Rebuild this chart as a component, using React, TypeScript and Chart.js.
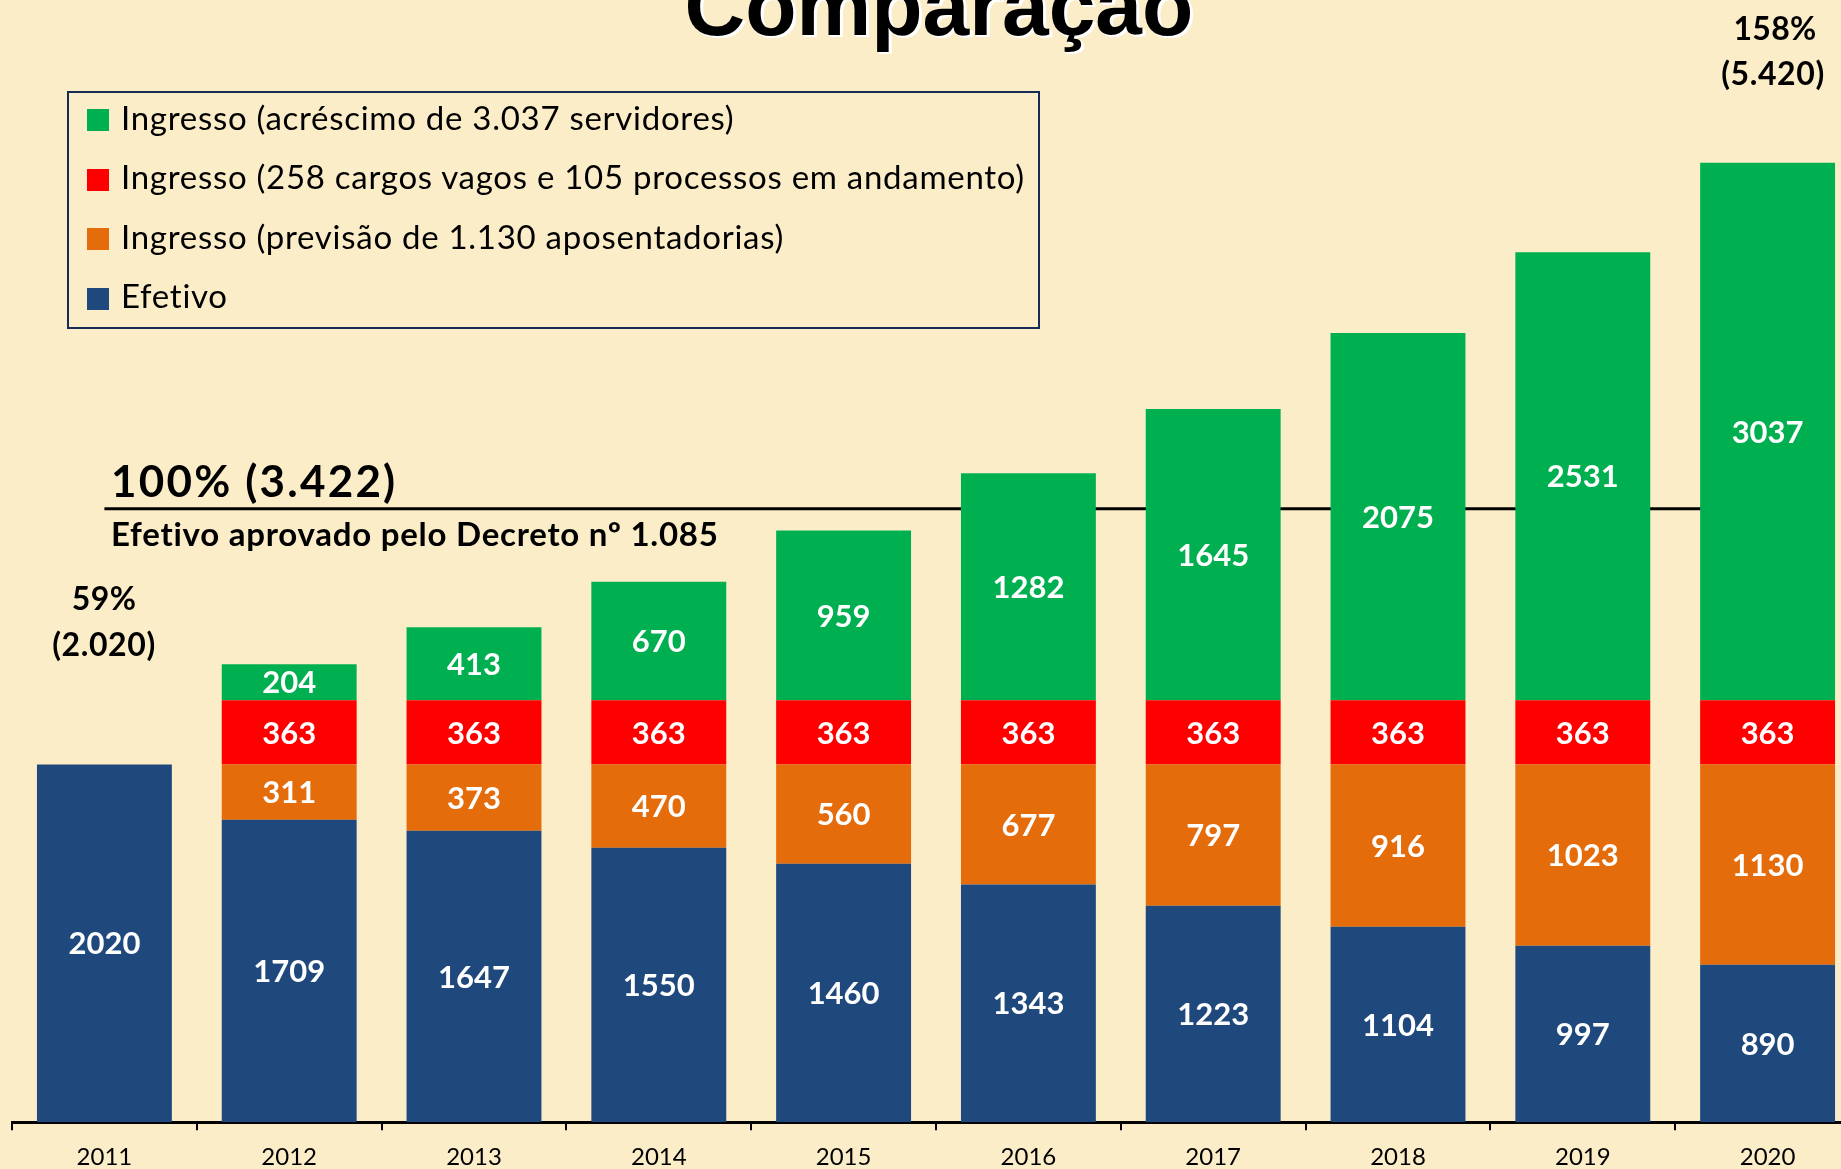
import React, { useEffect, useRef } from 'react';
import { Chart, registerables } from 'chart.js';

Chart.register(...registerables);

// ---- data ----
const categories = ['2011', '2012', '2013', '2014', '2015', '2016', '2017', '2018', '2019', '2020'];
const efetivo = [2020, 1709, 1647, 1550, 1460, 1343, 1223, 1104, 997, 890];
const previsaoAposentadorias = [null, 311, 373, 470, 560, 677, 797, 916, 1023, 1130];
const cargosVagosProcessos = [null, 363, 363, 363, 363, 363, 363, 363, 363, 363];
const acrescimoServidores = [null, 204, 413, 670, 959, 1282, 1645, 2075, 2531, 3037];
// level at which the "100% (3.422)" line is drawn in the picture
const referenceLevel = 3465;

const seriesNames = [
  'Ingresso (acréscimo de 3.037 servidores)',
  'Ingresso (258 cargos vagos e 105 processos em andamento)',
  'Ingresso (previsão de 1.130 aposentadorias)',
  'Efetivo',
];

const COLORS = {
  green: '#00B050',
  red: '#FF0000',
  orange: '#E46C0A',
  blue: '#1F497D',
  bg: '#FCEDC9',
};

const LATO = 'Lato, "Open Sans", sans-serif';

const referenceLinePlugin = {
  id: 'referenceLine',
  beforeDatasetsDraw(chart: any) {
    const { ctx, scales } = chart;
    const y = scales.y.getPixelForValue(referenceLevel);
    const x0 = scales.x.getPixelForValue(0);
    const x1 = scales.x.getPixelForValue(categories.length - 1);
    ctx.save();
    ctx.strokeStyle = '#000';
    ctx.lineWidth = 3;
    ctx.beginPath();
    ctx.moveTo(x0, y);
    ctx.lineTo(x1, y);
    ctx.stroke();
    ctx.restore();
  },
};

const valueLabelPlugin = {
  id: 'valueLabels',
  afterDatasetsDraw(chart: any) {
    const { ctx } = chart;
    const fs = 31;
    ctx.save();
    ctx.fillStyle = '#fff';
    ctx.font = `bold ${fs}px ${LATO}`;
    ctx.textAlign = 'center';
    ctx.textBaseline = 'alphabetic';
    chart.data.datasets.forEach((ds: any, di: number) => {
      const meta = chart.getDatasetMeta(di);
      meta.data.forEach((el: any, i: number) => {
        const v = ds.data[i];
        if (v === null || v === undefined) return;
        const cy = (el.y + el.base) / 2;
        ctx.fillText(String(v), el.x, cy + fs * 0.358);
      });
    });
    ctx.restore();
  },
};

function ChartCanvas() {
  const ref = useRef<HTMLCanvasElement | null>(null);
  useEffect(() => {
    if (!ref.current) return;
    const chart = new Chart(ref.current, {
      type: 'bar',
      data: {
        labels: categories,
        datasets: [
          { label: seriesNames[3], data: efetivo, backgroundColor: COLORS.blue },
          { label: seriesNames[2], data: previsaoAposentadorias, backgroundColor: COLORS.orange },
          { label: seriesNames[1], data: cargosVagosProcessos, backgroundColor: COLORS.red },
          { label: seriesNames[0], data: acrescimoServidores, backgroundColor: COLORS.green },
        ] as any,
      },
      options: {
        animation: false,
        responsive: false,
        devicePixelRatio: 1,
        layout: { padding: { left: 12, right: 12, top: 60, bottom: 0 } },
        datasets: { bar: { categoryPercentage: 1, barPercentage: 0.73, borderWidth: 0 } },
        plugins: { legend: { display: false }, tooltip: { enabled: false }, title: { display: false } },
        scales: {
          x: {
            stacked: true,
            offset: true,
            grid: {
              display: true,
              drawOnChartArea: false,
              drawTicks: true,
              tickLength: 8,
              color: '#000',
              lineWidth: 2,
              offset: true,
            },
            border: { display: true, color: '#000', width: 3 },
            ticks: {
              color: '#000',
              font: { family: LATO, size: 24 },
              padding: 13,
              maxRotation: 0,
              autoSkip: false,
            },
          },
          y: { stacked: true, display: false, min: 0, max: 6000 },
        },
      },
      plugins: [referenceLinePlugin, valueLabelPlugin],
    });
    return () => chart.destroy();
  }, []);
  return (
    <canvas
      ref={ref}
      width={1872}
      height={1185}
      style={{ position: 'absolute', left: 0, top: 0, width: 1872, height: 1185 }}
    />
  );
}

// baseline-positioned text helper (Lato: baseline at top + 0.887*fs with line-height 1)
function Txt(props: {
  text: string;
  x: number;
  baseline: number;
  size: number;
  bold?: boolean;
  center?: boolean;
  spacing?: number;
  color?: string;
}) {
  const { text, x, baseline, size, bold, center, spacing, color } = props;
  return (
    <div
      style={{
        position: 'absolute',
        left: x,
        top: baseline - 0.887 * size,
        fontFamily: LATO,
        fontSize: size,
        lineHeight: 1,
        fontWeight: bold ? 700 : 400,
        letterSpacing: spacing ? `${spacing}px` : undefined,
        color: color || '#000',
        whiteSpace: 'nowrap',
        transform: center ? 'translateX(-50%)' : undefined,
      }}
    >
      {text}
    </div>
  );
}

export default function App() {
  const legendColors = [COLORS.green, COLORS.red, COLORS.orange, COLORS.blue];
  const legendBaselines = [130, 189.5, 249, 308.5];
  return (
    <div
      style={{
        position: 'fixed',
        left: 0,
        top: 0,
        width: 1841,
        height: 1169,
        overflow: 'hidden',
        background: COLORS.bg,
      }}
    >
      <ChartCanvas />

      {/* title */}
      <div
        style={{
          position: 'absolute',
          left: 939,
          top: 35 - 0.8465 * 84,
          transform: 'translateX(-50%)',
          fontFamily: '"Liberation Sans", Arial, sans-serif',
          fontWeight: 700,
          fontSize: 84,
          lineHeight: 1,
          color: '#000',
          whiteSpace: 'nowrap',
          textShadow: '2px 2px 0 #fff, 1px 1px 0 #fff, 3px 2px 0 #fff',
        }}
      >
        Comparação
      </div>

      {/* legend */}
      <div
        style={{
          position: 'absolute',
          left: 67,
          top: 91,
          width: 973,
          height: 238,
          boxSizing: 'border-box',
          border: '2px solid #172C54',
        }}
      />
      {seriesNames.map((name, i) => (
        <React.Fragment key={name}>
          <div
            style={{
              position: 'absolute',
              left: 87,
              top: legendBaselines[i] - 21,
              width: 22,
              height: 22,
              background: legendColors[i],
            }}
          />
          <Txt text={name} x={121} baseline={legendBaselines[i]} size={33} spacing={0.72} />
        </React.Fragment>
      ))}

      {/* reference annotation */}
      <Txt text="100% (3.422)" x={111} baseline={497} size={44} bold spacing={2.2} />
      <Txt text="Efetivo aprovado pelo Decreto nº 1.085" x={111} baseline={546} size={33} bold spacing={0.75} />

      {/* totals */}
      <Txt text="59%" x={104} baseline={610} size={32} bold center spacing={0.4} />
      <Txt text="(2.020)" x={104} baseline={656} size={32} bold center spacing={0.6} />
      <Txt text="158%" x={1775} baseline={40} size={32} bold center spacing={0.3} />
      <Txt text="(5.420)" x={1773} baseline={85} size={32} bold center spacing={0.6} />
    </div>
  );
}
